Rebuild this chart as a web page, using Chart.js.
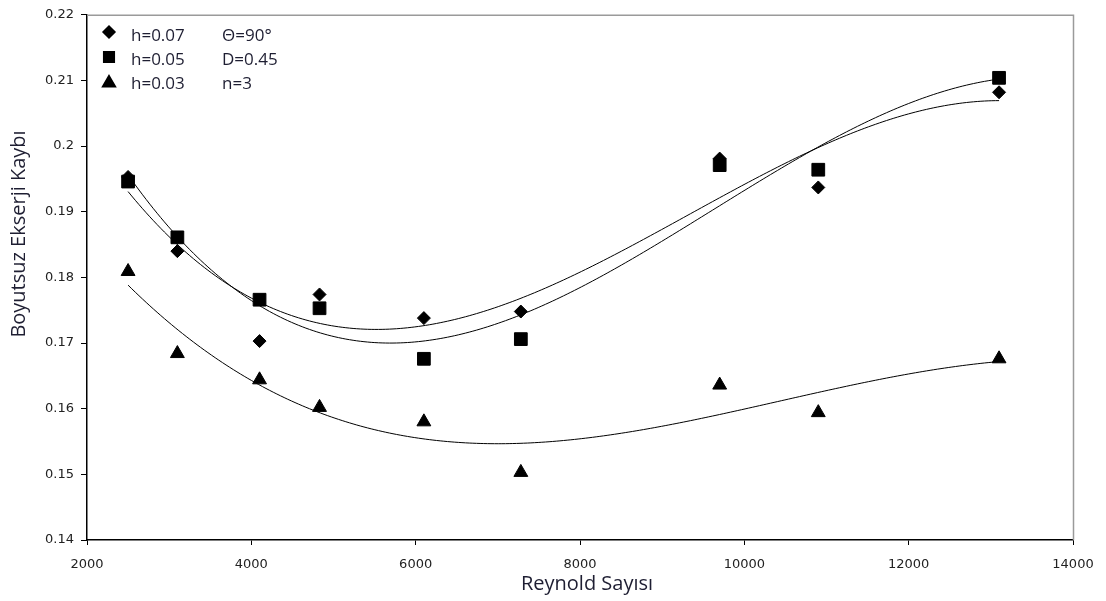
<!DOCTYPE html>
<html>
<head>
<meta charset="utf-8">
<script src="https://cdn.jsdelivr.net/npm/chart.js@4/dist/chart.umd.min.js"></script>
<style>
  html, body { margin: 0; padding: 0; background: #fff; }
  #wrap { width: 1106px; height: 601px; position: relative; }
</style>
</head>
<body>
<div id="wrap"><canvas id="c" width="1106" height="601"></canvas></div>
<script>
// Reynolds numbers and dimensionless exergy loss for three h values
const reynolds = [2500, 3100, 4100, 4830, 6100, 7280, 9700, 10900, 13100];
const lossH07 = [0.1953, 0.1840, 0.1703, 0.1774, 0.1738, 0.1748, 0.1981, 0.1937, 0.2082];
const lossH05 = [0.1946, 0.1861, 0.1766, 0.1753, 0.1676, 0.1706, 0.1971, 0.1964, 0.2104];
const lossH03 = [0.1809, 0.1684, 0.1644, 0.1602, 0.1580, 0.1503, 0.1636, 0.1594, 0.1676];

const seriesLabels = ['h=0.07', 'h=0.05', 'h=0.03'];
const noteLabels = ['\u0398=90\u00b0', 'D=0.45', 'n=3'];
const xTickValues = [2000, 4000, 6000, 8000, 10000, 12000, 14000];
const yTickValues = [0.14, 0.15, 0.16, 0.17, 0.18, 0.19, 0.2, 0.21, 0.22];
const xTitle = 'Reynold Say\u0131s\u0131';
const yTitle = 'Boyutsuz Ekserji Kayb\u0131';

// Third-order least-squares trend line through a series
function cubicTrend(xs, ys, steps) {
  const s = 1000;
  const n = 4;
  const A = [], b = [];
  for (let i = 0; i < n; i++) { A.push(new Array(n).fill(0)); b.push(0); }
  xs.forEach((x, k) => {
    const u = x / s;
    for (let i = 0; i < n; i++) {
      for (let j = 0; j < n; j++) A[i][j] += Math.pow(u, i + j);
      b[i] += ys[k] * Math.pow(u, i);
    }
  });
  for (let i = 0; i < n; i++) {
    let p = i;
    for (let r = i + 1; r < n; r++) if (Math.abs(A[r][i]) > Math.abs(A[p][i])) p = r;
    [A[i], A[p]] = [A[p], A[i]]; [b[i], b[p]] = [b[p], b[i]];
    for (let r = i + 1; r < n; r++) {
      const f = A[r][i] / A[i][i];
      for (let c = i; c < n; c++) A[r][c] -= f * A[i][c];
      b[r] -= f * b[i];
    }
  }
  const coef = new Array(n).fill(0);
  for (let i = n - 1; i >= 0; i--) {
    let sum = b[i];
    for (let c = i + 1; c < n; c++) sum -= A[i][c] * coef[c];
    coef[i] = sum / A[i][i];
  }
  const lo = Math.min(...xs), hi = Math.max(...xs);
  const pts = [];
  for (let k = 0; k <= steps; k++) {
    const x = lo + (hi - lo) * k / steps;
    const u = x / s;
    pts.push({ x: x, y: coef[0] + coef[1] * u + coef[2] * u * u + coef[3] * u * u * u });
  }
  return pts;
}

const toPoints = (ys) => reynolds.map((x, i) => ({ x: x, y: ys[i] }));

const markerStyles = [
  { pointStyle: 'rectRot', radius: 6.5 },
  { pointStyle: 'rect', radius: 9 },
  { pointStyle: 'triangle', radius: 8 }
];
const seriesValues = [lossH07, lossH05, lossH03];

const datasets = [];
seriesValues.forEach((ys, i) => {
  datasets.push({
    type: 'line',
    label: seriesLabels[i] + ' trend',
    data: cubicTrend(reynolds, ys, 240),
    borderColor: '#000',
    borderWidth: 1,
    pointRadius: 0,
    fill: false,
    tension: 0,
    order: 2
  });
});
seriesValues.forEach((ys, i) => {
  datasets.push({
    type: 'scatter',
    label: seriesLabels[i],
    data: toPoints(ys),
    pointStyle: markerStyles[i].pointStyle,
    pointRadius: markerStyles[i].radius,
    pointHoverRadius: markerStyles[i].radius,
    backgroundColor: '#000',
    borderColor: '#000',
    borderWidth: 1,
    order: 1
  });
});

const textColor = '#1e1e32';
const titleFont = '"Open Sans", "Noto Sans", sans-serif';

// Gray frame on top/right, the key with parameter notes, and both axis titles
const framePlugin = {
  id: 'frameAndKey',
  afterDatasetsDraw(chart) {
    const { ctx, chartArea: a } = chart;
    ctx.save();
    ctx.strokeStyle = '#9a9a9a';
    ctx.lineWidth = 1.5;
    ctx.beginPath();
    ctx.moveTo(a.left, a.top + 0.5);
    ctx.lineTo(a.right + 0.5, a.top + 0.5);
    ctx.lineTo(a.right + 0.5, a.bottom);
    ctx.stroke();

    const keyY = [32, 57, 83];
    const textY = [36, 60, 84];
    const keyMarks = [
      { pointStyle: 'rectRot', radius: 6 },
      { pointStyle: 'rect', radius: 7.5 },
      { pointStyle: 'triangle', radius: 7.5 }
    ];
    ctx.fillStyle = '#000';
    ctx.strokeStyle = '#000';
    keyMarks.forEach((m, i) => {
      Chart.helpers.drawPoint(ctx, { pointStyle: m.pointStyle, radius: m.radius, rotation: 0, borderWidth: 1 }, 109, keyY[i]);
    });
    ctx.font = '17px ' + titleFont;
    ctx.fillStyle = textColor;
    ctx.textBaseline = 'middle';
    ctx.textAlign = 'left';
    seriesLabels.forEach((t, i) => ctx.fillText(t, 131, textY[i]));
    noteLabels.forEach((t, i) => ctx.fillText(t, 222, textY[i]));

    ctx.font = '20px ' + titleFont;
    ctx.textAlign = 'center';
    ctx.fillText(xTitle, 587, 584);

    ctx.translate(19, 234);
    ctx.rotate(-Math.PI / 2);
    ctx.fillText(yTitle, 0, 0);
    ctx.restore();
  }
};

new Chart(document.getElementById('c'), {
  data: { datasets: datasets },
  plugins: [framePlugin],
  options: {
    responsive: false,
    animation: false,
    events: [],
    layout: { padding: { top: 10, right: 33, left: 0, bottom: 0 } },
    plugins: { legend: { display: false }, tooltip: { enabled: false } },
    scales: {
      x: {
        type: 'linear',
        min: 2000, max: 14000,
        afterBuildTicks: (s) => { s.ticks = xTickValues.map(v => ({ value: v })); },
        afterFit: (s) => { s.height = 61; },
        grid: { drawOnChartArea: false, color: '#000', tickLength: 5, tickColor: '#000' },
        border: { color: '#000', width: 1.5 },
        ticks: {
          color: '#222',
          padding: 12,
          maxRotation: 0,
          font: { family: '"DejaVu Sans", Verdana, sans-serif', size: 13 },
          callback: (v) => String(v)
        }
      },
      y: {
        type: 'linear',
        min: 0.14, max: 0.22,
        afterBuildTicks: (s) => { s.ticks = yTickValues.map(v => ({ value: v })); },
        afterFit: (s) => { s.width = 87; },
        grid: { drawOnChartArea: false, color: '#000', tickLength: 6, tickColor: '#000' },
        border: { color: '#000', width: 1.5 },
        ticks: {
          color: '#222',
          padding: 7,
          font: { family: '"DejaVu Sans", Verdana, sans-serif', size: 13 },
          callback: (v) => String(+Number(v).toFixed(2))
        }
      }
    }
  }
});
</script>
</body>
</html>
